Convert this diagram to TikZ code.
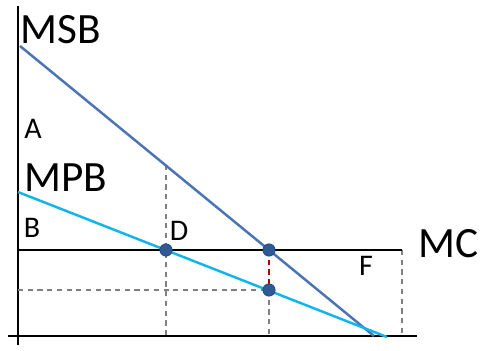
\documentclass[tikz,border=0pt]{standalone}
\usepackage{fontspec}
\setmainfont{Carlito}
\usepackage{tikz}
\usetikzlibrary{positioning, backgrounds}

\definecolor{msbblue}{HTML}{4A74B4}
\definecolor{mpbcyan}{HTML}{12B4EC}
\definecolor{dotblue}{HTML}{2F5A96}

\begin{document}
\begin{tikzpicture}[
    x=0.567pt, y=-0.567pt,
    axis/.style={line width=1.1pt, black},
    curvelabel/.style={font=\fontsize{24.5}{26}\selectfont, inner sep=0pt, anchor=west},
    arealabel/.style={font=\fontsize{17}{19}\selectfont, inner sep=0pt},
    guide/.style={gray, dashed, line width=0.8pt, dash pattern=on 3pt off 2.5pt},
    dot/.style={circle, fill=dotblue, draw=dotblue!80!black, line width=0.4pt, minimum size=7pt, inner sep=0pt}
]
\useasboundingbox (0,0) rectangle (486,350);

% Punkte
\node[dot] (D) at (166,250) {};
\node[dot] (E) at (269,250) {};
\node[dot] (G) at (269,290) {};

\begin{scope}[on background layer]
% Achsen
\coordinate (ytop) at (18,6);
\coordinate (ybot) at (18,345);
\coordinate (xleft) at (8,336);
\coordinate (xright) at (417,336);
\draw[axis] (ytop) -- (ybot);
\draw[axis] (xleft) -- (xright);

% Hilfslinien
\coordinate (Dtop) at (166,165);
\coordinate (Dbot) at (166,336);
\coordinate (Ebot) at (269,336);
\coordinate (Gleft) at (18,290);
\coordinate (Fend) at (402,250);
\coordinate (Fbot) at (402,336);
\draw[guide] (Dtop) -- (Dbot);
\draw[guide] (G.center) -- (Ebot);
\draw[guide] (Gleft) -- (G.center);
\draw[guide] (Fend) -- (Fbot);
\draw[guide, red!70!black] (E.center) -- (G.center);

% MC
\coordinate (mcstart) at (18,250);
\draw[axis] (mcstart) -- (Fend);

% MSB und MPB
\coordinate (msbstart) at (20,46);
\coordinate (msbend) at (374,336);
\coordinate (mpbstart) at (18,192);
\coordinate (mpbend) at (387,337);
\draw[msbblue, line width=1.4pt] (msbstart) -- (msbend);
\draw[mpbcyan, line width=1.4pt] (mpbstart) -- (mpbend);
\end{scope}

% Beschriftungen
\node[curvelabel] (msb) at (20,30) {MSB};
\node[curvelabel] (mpb) at (24,178) {MPB};
\node[curvelabel] (mc) at (418,244) {MC};
\node[arealabel] (a) at (33,129) {A};
\node[arealabel] (b) at (32,228) {B};
\node[arealabel] (d) at (179,231) {D};
\node[arealabel] (f) at (366,266) {F};

\end{tikzpicture}
\end{document}
